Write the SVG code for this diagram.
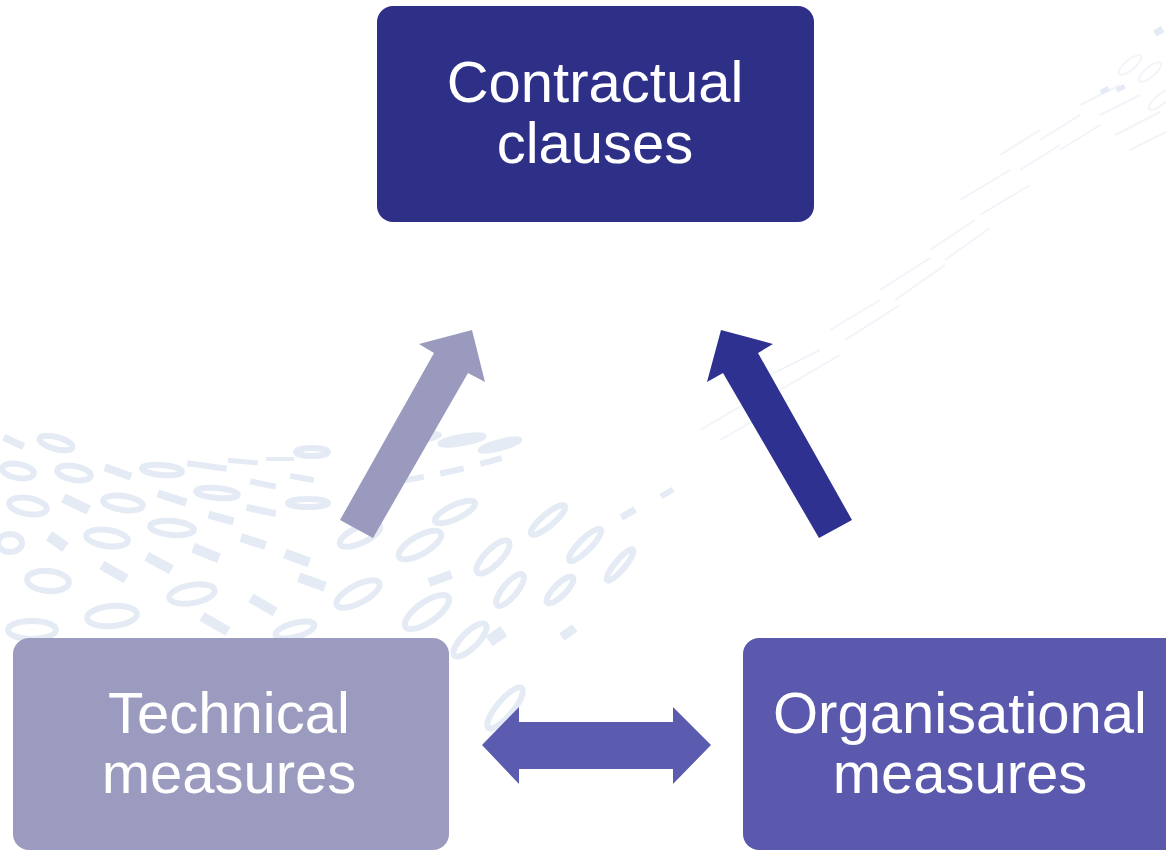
<svg xmlns="http://www.w3.org/2000/svg" width="1166" height="852" viewBox="0 0 1166 852">
<style>
.lbl{font-family:"Liberation Sans",Arial,sans-serif;font-size:58px;fill:#ffffff;text-anchor:middle}
.bo{fill:none;stroke:#E5EBF4;stroke-width:6}
.bd{fill:#E5EBF4}
.bf{fill:none;stroke:#F1F4F9;stroke-width:2}
</style>
<rect width="1166" height="852" fill="#ffffff"/>
<g id="background">
<rect class="bd" x="3" y="438" width="22" height="7" transform="rotate(25 13 441)"/>
<ellipse class="bo" cx="56" cy="443" rx="17" ry="6" transform="rotate(15 56 443)"/>
<ellipse class="bo" cx="18" cy="471" rx="16" ry="7" transform="rotate(10 18 471)"/>
<ellipse class="bo" cx="74" cy="473" rx="17" ry="7" transform="rotate(10 74 473)"/>
<rect class="bd" x="104" y="468" width="28" height="8" transform="rotate(20 118 472)"/>
<ellipse class="bo" cx="162" cy="470" rx="20" ry="5" transform="rotate(5 162 470)"/>
<rect class="bd" x="187" y="463" width="40" height="6" transform="rotate(8 207 466)"/>
<rect class="bd" x="228" y="459" width="30" height="5" transform="rotate(5 243 462)"/>
<rect class="bd" x="266" y="457" width="28" height="4"/>
<ellipse class="bo" cx="28" cy="506" rx="19" ry="8" transform="rotate(10 28 506)"/>
<rect class="bd" x="62" y="499" width="28" height="10" transform="rotate(25 76 504)"/>
<ellipse class="bo" cx="123" cy="503" rx="20" ry="7" transform="rotate(8 123 503)"/>
<rect class="bd" x="157" y="494" width="30" height="8" transform="rotate(18 172 498)"/>
<ellipse class="bo" cx="217" cy="493" rx="21" ry="5" transform="rotate(5 217 493)"/>
<rect class="bd" x="250" y="481" width="26" height="6" transform="rotate(12 263 484)"/>
<rect class="bd" x="290" y="475" width="24" height="6" transform="rotate(10 302 478)"/>
<ellipse class="bo" cx="312" cy="452" rx="16" ry="4"/>
<ellipse class="bo" cx="10" cy="543" rx="12" ry="9"/>
<rect class="bd" x="47" y="536" width="20" height="11" transform="rotate(35 57 542)"/>
<ellipse class="bo" cx="107" cy="538" rx="21" ry="8" transform="rotate(8 107 538)"/>
<ellipse class="bo" cx="172" cy="528" rx="22" ry="7" transform="rotate(5 172 528)"/>
<rect class="bd" x="208" y="514" width="26" height="8" transform="rotate(15 221 518)"/>
<rect class="bd" x="246" y="507" width="30" height="7" transform="rotate(12 261 511)"/>
<ellipse class="bo" cx="308" cy="503" rx="20" ry="4"/>
<ellipse class="bo" cx="48" cy="581" rx="21" ry="10" transform="rotate(5 48 581)"/>
<rect class="bd" x="100" y="567" width="28" height="10" transform="rotate(30 114 572)"/>
<rect class="bd" x="145" y="558" width="28" height="10" transform="rotate(28 159 563)"/>
<rect class="bd" x="192" y="548" width="28" height="10" transform="rotate(22 206 553)"/>
<rect class="bd" x="240" y="537" width="26" height="9" transform="rotate(18 253 542)"/>
<rect class="bd" x="284" y="553" width="26" height="10" transform="rotate(20 297 558)"/>
<ellipse class="bo" cx="112" cy="616" rx="25" ry="10" transform="rotate(-5 112 616)"/>
<ellipse class="bo" cx="192" cy="594" rx="23" ry="9" transform="rotate(-10 192 594)"/>
<rect class="bd" x="249" y="600" width="28" height="10" transform="rotate(30 263 605)"/>
<rect class="bd" x="298" y="577" width="28" height="10" transform="rotate(20 312 582)"/>
<ellipse class="bo" cx="358" cy="594" rx="24" ry="9" transform="rotate(-28 358 594)"/>
<ellipse class="bo" cx="32" cy="630" rx="24" ry="9"/>
<rect class="bd" x="200" y="619" width="30" height="10" transform="rotate(30 215 624)"/>
<ellipse class="bo" cx="295" cy="630" rx="20" ry="7" transform="rotate(-15 295 630)"/>
<ellipse class="bo" cx="360" cy="535" rx="22" ry="8" transform="rotate(-25 360 535)"/>
<ellipse class="bo" cx="420" cy="545" rx="24" ry="9" transform="rotate(-30 420 545)"/>
<ellipse class="bo" cx="427" cy="612" rx="26" ry="10" transform="rotate(-35 427 612)"/>
<ellipse class="bo" cx="455" cy="512" rx="22" ry="7" transform="rotate(-25 455 512)"/>
<ellipse class="bo" cx="493" cy="557" rx="22" ry="8" transform="rotate(-45 493 557)"/>
<ellipse class="bo" cx="510" cy="590" rx="20" ry="7" transform="rotate(-50 510 590)"/>
<ellipse class="bo" cx="470" cy="640" rx="22" ry="8" transform="rotate(-45 470 640)"/>
<rect class="bd" x="428" y="574" width="24" height="9" transform="rotate(-20 440 578)"/>
<rect class="bd" x="488" y="630" width="18" height="12" transform="rotate(-35 497 637)"/>
<rect class="bd" x="400" y="476" width="24" height="6" transform="rotate(-10 412 479)"/>
<rect class="bd" x="440" y="468" width="24" height="6" transform="rotate(-12 452 471)"/>
<rect class="bd" x="480" y="458" width="22" height="6" transform="rotate(-15 491 461)"/>
<ellipse class="bo" cx="417" cy="438" rx="22" ry="3" transform="rotate(-8 417 438)"/>
<ellipse class="bo" cx="462" cy="440" rx="22" ry="3" transform="rotate(-10 462 440)"/>
<ellipse class="bo" cx="500" cy="445" rx="20" ry="3" transform="rotate(-15 500 445)"/>
<ellipse class="bo" cx="548" cy="520" rx="22" ry="6" transform="rotate(-40 548 520)"/>
<ellipse class="bo" cx="585" cy="545" rx="22" ry="6" transform="rotate(-45 585 545)"/>
<ellipse class="bo" cx="620" cy="565" rx="20" ry="5" transform="rotate(-50 620 565)"/>
<ellipse class="bo" cx="560" cy="590" rx="18" ry="6" transform="rotate(-45 560 590)"/>
<rect class="bd" x="560" y="628" width="16" height="9" transform="rotate(-35 568 632)"/>
<rect class="bd" x="620" y="510" width="16" height="7" transform="rotate(-30 628 513)"/>
<rect class="bd" x="660" y="490" width="14" height="6" transform="rotate(-30 667 493)"/>
<ellipse class="bo" cx="505" cy="708" rx="26" ry="8" transform="rotate(-50 505 708)"/>
<ellipse class="bo" cx="30" cy="820" rx="10" ry="20" transform="rotate(20 30 820)"/>
<path class="bf" d="M 700 430 L 760 395 M 720 440 L 790 400 M 760 380 L 820 350 M 780 390 L 840 355 M 830 330 L 880 300 M 845 340 L 900 305 M 880 290 L 930 258 M 895 300 L 945 265 M 930 250 L 975 220 M 945 260 L 990 228"/>
<path class="bf" d="M 960 200 L 1010 170 M 980 215 L 1030 185 M 1000 155 L 1040 130 M 1020 170 L 1060 145 M 1040 140 L 1080 115 M 1060 150 L 1100 125 M 1080 105 L 1120 85 M 1100 115 L 1140 95 M 1115 135 L 1160 112 M 1130 150 L 1166 132"/>
<ellipse class="bf" cx="1130" cy="65" rx="14" ry="5" transform="rotate(-40 1130 65)"/>
<ellipse class="bf" cx="1150" cy="72" rx="14" ry="5" transform="rotate(-40 1150 72)"/>
<ellipse class="bf" cx="1160" cy="100" rx="14" ry="5" transform="rotate(-40 1160 100)"/>
<rect class="bd" x="1154" y="28" width="9" height="7" transform="rotate(-30 1158 31)"/>
<rect class="bd" x="1100" y="88" width="9" height="5" transform="rotate(-25 1104 90)"/>
<rect class="bd" x="1116" y="86" width="9" height="5" transform="rotate(-25 1120 88)"/>
</g>
<g id="connectors">
<polygon id="arrow-tech-contract" fill="#9A9ABF" points="472,330 485,382 468,373 373,538 340,520 434,353 419,344"/>
<polygon id="arrow-org-contract" fill="#2E3190" points="721,330 773,344 758,353 852,520 819,538 723,373 707,382"/>
<polygon id="arrow-tech-org" fill="#5B5BAF" points="482,745 519,707 519,722 673,722 673,707 711,745 673,784 673,769 519,769 519,784"/>
</g>
<g id="node-contractual">
<rect x="377" y="6" width="437" height="216" rx="16" fill="#2E3088"/>
<text class="lbl" x="595" y="102">Contractual</text>
<text class="lbl" x="595" y="163">clauses</text>
</g>
<g id="node-technical">
<rect x="13" y="638" width="436" height="212" rx="16" fill="#9B9BBF"/>
<text class="lbl" x="229" y="733">Technical</text>
<text class="lbl" x="229" y="793">measures</text>
</g>
<g id="node-organisational">
<rect x="743" y="638" width="440" height="212" rx="16" fill="#5A59AE"/>
<text class="lbl" x="960" y="733">Organisational</text>
<text class="lbl" x="960" y="793">measures</text>
</g>
</svg>
